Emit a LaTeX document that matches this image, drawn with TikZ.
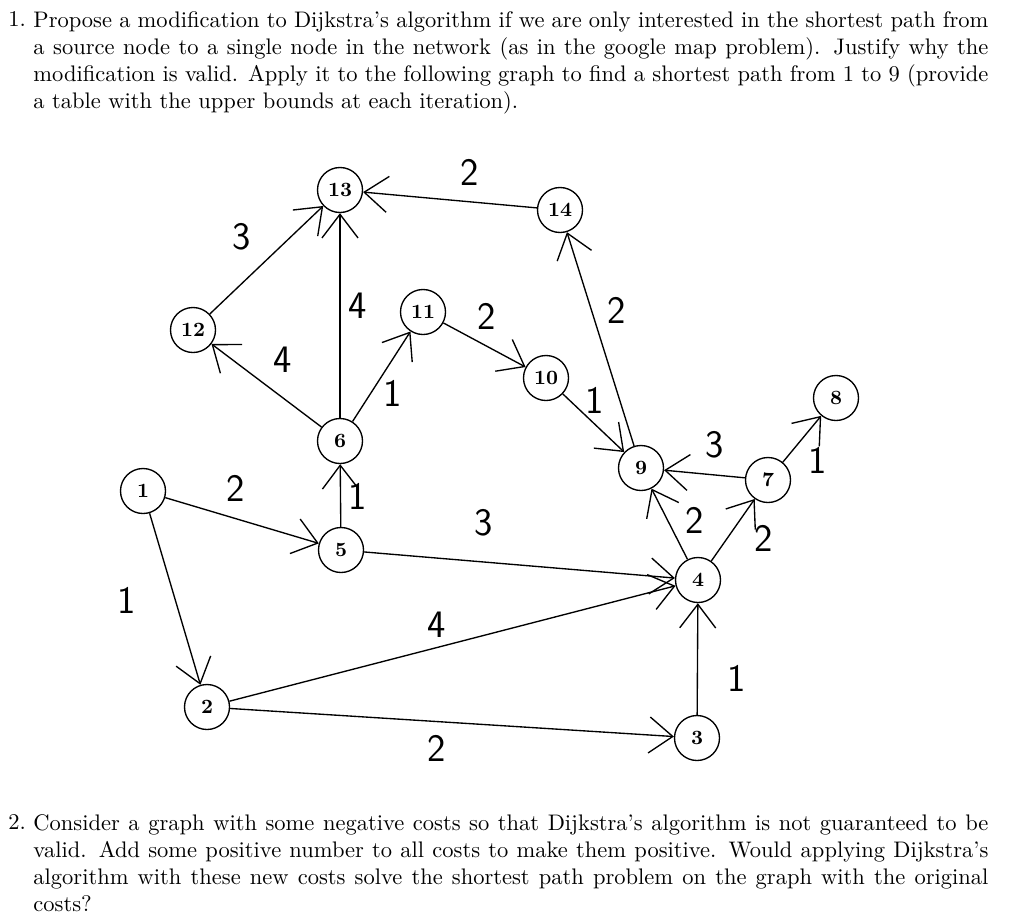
\documentclass[tikz,border=0pt]{standalone}
\usepackage{amsmath,amssymb}
\usetikzlibrary{arrows.meta}

\begin{document}
\begin{tikzpicture}[x=0.4444pt,y=-0.4444pt,>={Straight Barb[length=10.5pt,width=16pt]},
  vertex/.style={draw,circle,minimum size=20pt,inner sep=0pt,line width=0.6pt,font=\small\bfseries},
  arc/.style={->,line width=0.6pt},
  cost/.style={font=\LARGE\sffamily},
  para/.style={anchor=north west,inner sep=0pt,text width=424.4pt,align=justify}]
  \useasboundingbox (0,0) rectangle (1024,914);
  % question 1
  \node[anchor=north west,inner sep=0pt] (q1num) at (8,11) {1.};
  \node[para] (q1) at (33,11) {Propose a modification to Dijkstra's algorithm if we are only interested in the shortest path from a source node to a single node in the network (as in the google map problem). Justify why the modification is valid. Apply it to the following graph to find a shortest path from 1 to 9 (provide a table with the upper bounds at each iteration).};
  % network
  \node[vertex] (n1) at (143,491) {1};
  \node[vertex] (n2) at (207,707) {2};
  \node[vertex] (n3) at (697,738) {3};
  \node[vertex] (n4) at (698,580) {4};
  \node[vertex] (n5) at (341,550) {5};
  \node[vertex] (n6) at (340,441) {6};
  \node[vertex] (n7) at (768,480) {7};
  \node[vertex] (n8) at (836,398) {8};
  \node[vertex] (n9) at (641,468) {9};
  \node[vertex] (n10) at (546,378) {10};
  \node[vertex] (n11) at (423,312) {11};
  \node[vertex] (n12) at (193,330) {12};
  \node[vertex] (n13) at (340,190) {13};
  \node[vertex] (n14) at (560,210) {14};
  \draw[arc] (n1) -- (n5);
  \draw[arc] (n1) -- (n2);
  \draw[arc] (n2) -- (n4);
  \draw[arc] (n2) -- (n3);
  \draw[arc] (n3) -- (n4);
  \draw[arc] (n5) -- (n4);
  \draw[arc] (n5) -- (n6);
  \draw[arc] (n6) -- (n12);
  \draw[arc] (n6) -- (n13);
  \draw[arc] (n6) -- (n11);
  \draw[arc] (n12) -- (n13);
  \draw[arc] (n14) -- (n13);
  \draw[arc] (n11) -- (n10);
  \draw[arc] (n10) -- (n9);
  \draw[arc] (n9) -- (n14);
  \draw[arc] (n7) -- (n9);
  \draw[arc] (n4) -- (n9);
  \draw[arc] (n4) -- (n7);
  \draw[arc] (n7) -- (n8);
  % costs
  \node[cost] (c15) at (236,488) {2};
  \node[cost] (c12) at (127,600) {1};
  \node[cost] (c24) at (437,625) {4};
  \node[cost] (c23) at (437,748) {2};
  \node[cost] (c34) at (737,678) {1};
  \node[cost] (c54) at (484,523) {3};
  \node[cost] (c56) at (358,496) {1};
  \node[cost] (c612) at (283,360) {4};
  \node[cost] (c613) at (358,306) {4};
  \node[cost] (c611) at (393,393) {1};
  \node[cost] (c1213) at (242,237) {3};
  \node[cost] (c1413) at (470,172) {2};
  \node[cost] (c1110) at (487,316) {2};
  \node[cost] (c109) at (595,400) {1};
  \node[cost] (c914) at (617,310) {2};
  \node[cost] (c79) at (715,445) {3};
  \node[cost] (c49) at (695,520) {2};
  \node[cost] (c47) at (764,538) {2};
  \node[cost] (c78) at (818,460) {1};
  % question 2
  \node[anchor=north west,inner sep=0pt] (q2num) at (8,814) {2.};
  \node[para] (q2) at (33,814) {Consider a graph with some negative costs so that Dijkstra's algorithm is not guaranteed to be valid. Add some positive number to all costs to make them positive. Would applying Dijkstra's algorithm with these new costs solve the shortest path problem on the graph with the original costs?};
\end{tikzpicture}
\end{document}
